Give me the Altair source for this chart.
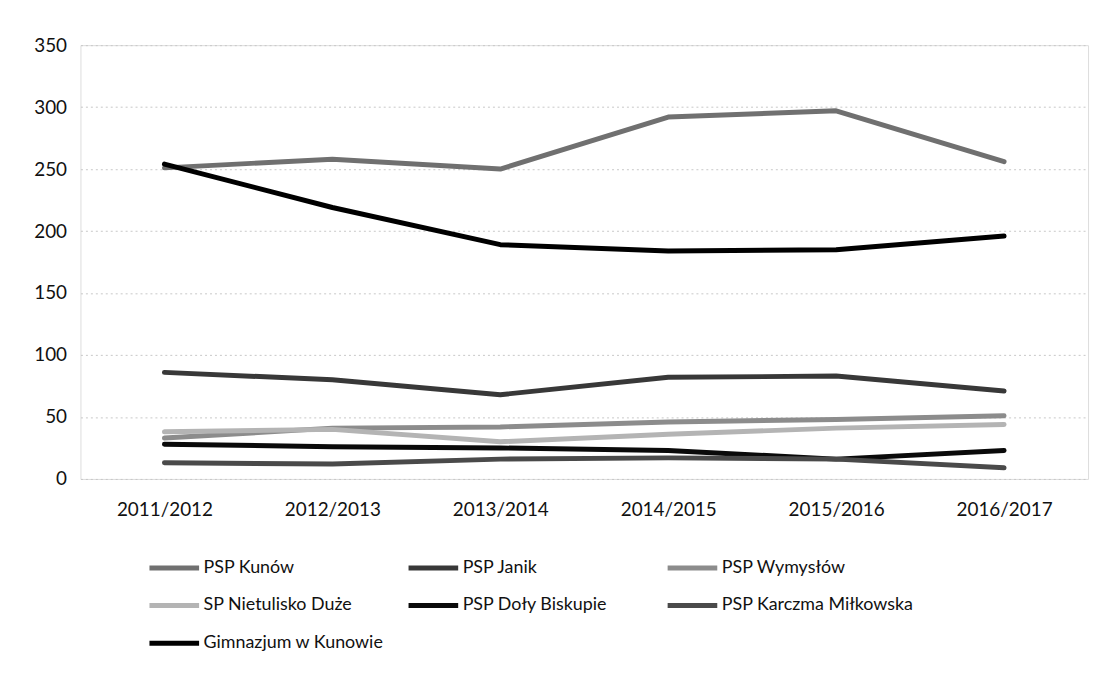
import altair as alt
import pandas as pd

years = ["2011/2012", "2012/2013", "2013/2014", "2014/2015", "2015/2016", "2016/2017"]
series_names = ["PSP Kunów", "PSP Janik", "PSP Wymysłów", "SP Nietulisko Duże",
                "PSP Doły Biskupie", "PSP Karczma Miłkowska", "Gimnazjum w Kunowie"]
kunow = [251, 258, 250, 292, 297, 256]
janik = [86, 80, 68, 82, 83, 71]
wymyslow = [33, 41, 42, 46, 48, 51]
nietulisko = [38, 40, 30, 36, 41, 44]
doly = [28, 26, 25, 23, 16, 23]
karczma = [13, 12, 16, 17, 16, 9]
gimnazjum = [254, 219, 189, 184, 185, 196]
series_values = [kunow, janik, wymyslow, nietulisko, doly, karczma, gimnazjum]
series_colors = ["#707070", "#383838", "#8c8c8c", "#b4b4b4", "#0a0a0a", "#4a4a4a", "#000000"]
series_widths = [5, 5, 5, 4.5, 6, 5, 6.5]

rows = []
for i, (name, vals) in enumerate(zip(series_names, series_values)):
    for y, v in zip(years, vals):
        rows.append({"Rok": y, "Szkoła": name, "Liczba": v, "ord": i})
df = pd.DataFrame(rows)

FONT = "Lato"
FS = 19

chart = alt.Chart(df).mark_line(strokeCap="round", strokeJoin="round").encode(
    x=alt.X("Rok:N", sort=years,
            scale=alt.Scale(type="point", padding=0.5),
            axis=alt.Axis(title=None, labelAngle=0, ticks=False, domain=False, grid=False,
                          labelFontSize=FS, labelColor="#111", labelPadding=22, labelFont=FONT)),
    y=alt.Y("Liczba:Q", scale=alt.Scale(domain=[0, 350], nice=False),
            axis=alt.Axis(title=None, values=[0, 50, 100, 150, 200, 250, 300, 350],
                          ticks=False, domain=False, grid=True, gridColor="#c8c8c8",
                          gridDash=[2, 3], gridWidth=1, labelFontSize=FS, labelColor="#111",
                          labelPadding=14, labelFont=FONT)),
    color=alt.Color("Szkoła:N", sort=series_names,
                    scale=alt.Scale(domain=series_names, range=series_colors),
                    legend=alt.Legend(title=None, orient="none", legendX=67, legendY=499,
                                      columns=3, direction="horizontal", gridAlign="all",
                                      symbolType="stroke", symbolSize=2500, symbolStrokeWidth=5,
                                      labelFontSize=18, labelFont=FONT, labelColor="#111",
                                      labelOffset=2, columnPadding=2, rowPadding=-12,
                                      labelLimit=400)),
    strokeWidth=alt.StrokeWidth("Szkoła:N", sort=series_names,
                                scale=alt.Scale(domain=series_names, range=series_widths),
                                legend=None),
    order=alt.Order("ord:Q"),
    detail="Szkoła:N",
).properties(
    width=1015, height=437,
    autosize=alt.AutoSizeParams(type="none"),
    padding={"left": 73, "top": 35, "right": 5, "bottom": 186},
).configure_view(stroke=None).configure(background="white")

chart.save("out.html", embed_options={"renderer": "svg", "actions": False})
